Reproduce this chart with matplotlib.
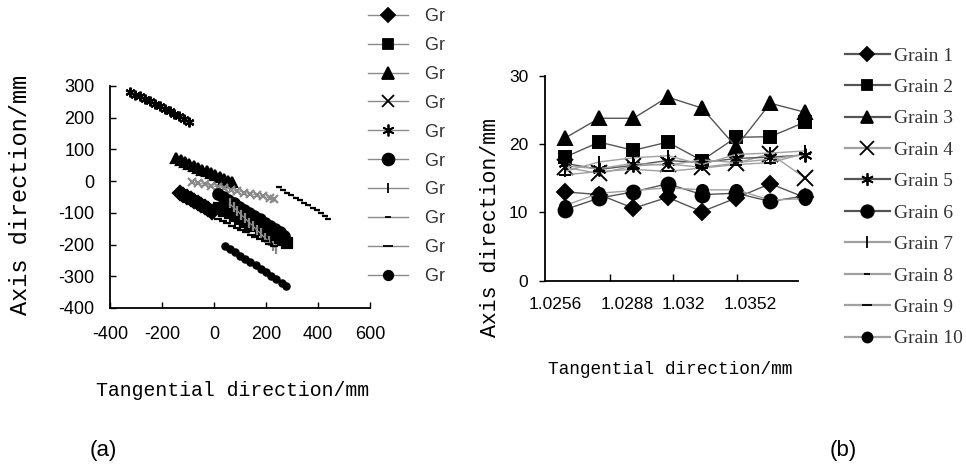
import matplotlib
matplotlib.use("Agg")
import matplotlib.pyplot as plt
from matplotlib.lines import Line2D
from matplotlib.transforms import Bbox, TransformedBbox

plt.rcParams["axes.unicode_minus"] = False

# ---- panel (a): grain traces, tangential vs axis direction (mm) ----
a_x1 = [-131, -118, -104, -90, -77, -63, -50, -36, -22, -8]
a_y1 = [-38, -44, -51, -56, -62, -69, -75, -80, -88, -96]
a_x2 = [20, 40, 60, 80, 100, 120, 140, 160, 180, 200, 220, 240, 260, 280]
a_y2 = [-85, -94, -101, -111, -118, -128, -137, -143, -153, -162, -169, -178, -187, -195]
a_x3 = [-145, -128, -112, -95, -78, -62, -45, -28, -12, 5, 22, 38, 55, 70]
a_y3 = [72, 67, 59, 55, 47, 43, 36, 31, 25, 19, 14, 7, 2, -4]
a_x4 = [-85, -60, -35, -10, 15, 40, 65, 90, 115, 140, 165, 190, 215, 230]
a_y4 = [-2, -7, -9, -14, -18, -21, -27, -30, -36, -39, -45, -48, -54, -57]
a_x5 = [-323, -304, -285, -266, -247, -228, -209, -190, -171, -152, -133, -114, -95]
a_y5 = [282, 273, 267, 258, 252, 243, 237, 228, 222, 212, 206, 197, 188]
a_x6 = [15, 35, 55, 75, 95, 115, 135, 155, 175, 195, 215, 235, 255, 270]
a_y6 = [-40, -51, -60, -70, -80, -90, -99, -111, -119, -131, -140, -151, -160, -172]
a_x7 = [60, 75, 90, 105, 120, 135, 150, 165, 180, 195, 210, 225, 240]
a_y7 = [-70, -83, -93, -107, -117, -131, -141, -155, -165, -179, -189, -203, -213]
a_x8 = [250, 265, 282, 298, 315, 330, 347, 363, 380, 396, 412, 428, 440]
a_y8 = [-20, -28, -37, -44, -53, -60, -69, -76, -86, -92, -102, -109, -120]
a_x9 = [15, 33, 51, 69, 87, 105, 123, 141, 159, 177, 195, 213, 231]
a_y9 = [-118, -127, -133, -141, -147, -155, -161, -169, -175, -183, -189, -197, -204]
a_x10 = [41, 60, 80, 100, 120, 140, 160, 180, 200, 220, 240, 260, 278]
a_y10 = [-203, -214, -223, -235, -244, -256, -265, -278, -286, -299, -308, -320, -330]

a_xticks = [-400, -200, 0, 200, 400, 600]
a_yticks = [300, 200, 100, 0, -100, -200, -300, -400]

# ---- panel (b): first eight sampling points ----
b_xlabels = ["1.0256", "1.0288", "1.032", "1.0352"]
b_g1 = [13.0, 12.6, 10.6, 12.2, 10.1, 12.1, 14.2, 12.2]
b_g2 = [18.1, 20.3, 19.1, 20.3, 17.6, 21.0, 21.1, 23.2]
b_g3 = [20.9, 23.8, 23.8, 26.9, 25.3, 19.6, 26.0, 24.7]
b_g4 = [16.6, 15.7, 16.8, 17.1, 16.6, 17.2, 18.6, 15.1]
b_g5 = [17.2, 16.3, 16.9, 17.6, 17.3, 17.9, 18.1, 18.4]
b_g6 = [10.4, 12.1, 13.0, 14.2, 12.6, 12.8, 11.6, 12.4]
b_g7 = [16.0, 17.4, 18.0, 18.3, 17.0, 18.5, 18.7, 19.0]
b_g8 = [16.8, 16.4, 17.2, 16.9, 17.7, 17.3, 17.8, 18.5]
b_g9 = [15.5, 16.0, 16.3, 16.0, 16.5, 17.0, 17.3, 18.6]
b_g10 = [11.0, 12.8, 13.2, 13.6, 13.3, 13.3, 11.8, 12.0]

names = ["Grain %d" % i for i in range(1, 11)]
# marker, size in panel b, line colour
styles = [
    ("D", 8, "#555555"),
    ("s", 8.5, "#555555"),
    ("^", 10, "#555555"),
    ("x", 11, "#a0a0a0"),
    ((6, 2, 0), 10, "#555555"),
    ("o", 10, "#555555"),
    ("|", 9, "#a0a0a0"),
    ("_", 5, "#a0a0a0"),
    ("_", 8, "#a0a0a0"),
    ("o", 8, "#a0a0a0"),
]

W, H = 966, 465
fig = plt.figure(figsize=(W / 100, H / 100), dpi=100)


def fx(px):
    return px / W


def fy(py):
    return 1 - py / H


mono = "Liberation Mono"
sans = "Liberation Sans"

# ---------------- panel (a) ----------------
ax_a = fig.add_axes([fx(110), fy(308), fx(370) - fx(110), fy(86) - fy(308)])
a_x = [a_x1, a_x2, a_x3, a_x4, a_x5, a_x6, a_x7, a_x8, a_x9, a_x10]
a_y = [a_y1, a_y2, a_y3, a_y4, a_y5, a_y6, a_y7, a_y8, a_y9, a_y10]
a_ms = [7, 6.5, 7, 6, 7, 7.5, 7, 5, 6, 4.5]
for i in range(10):
    mk, _, lc = styles[i]
    col = "#8a8a8a" if i in (3, 6) else "black"
    ax_a.plot(a_x[i], a_y[i], color=lc, lw=0.8, marker=mk, ms=a_ms[i],
              mfc=col, mec=col, mew=1.6, clip_on=False)
ax_a.set_xlim(-400, 600)
ax_a.set_ylim(-400, 300)
ax_a.set_xticks(a_xticks)
ax_a.set_yticks(a_yticks)
ax_a.tick_params(direction="in", length=4, width=1.0, labelsize=13)
ax_a.tick_params(axis="x", pad=13)
ax_a.tick_params(axis="y", pad=11)
for lab in ax_a.get_xticklabels() + ax_a.get_yticklabels():
    lab.set_fontfamily(sans)
for s in ("top", "right"):
    ax_a.spines[s].set_visible(False)
for s in ("left", "bottom"):
    ax_a.spines[s].set_linewidth(1.3)

handles_a = []
for i in range(10):
    mk, ms, lc = styles[i]
    handles_a.append(Line2D([], [], color="#8a8a8a", lw=1.0, marker=mk,
                            ms=ms * 0.85, mfc="black", mec="black", mew=1.3))
leg_a = ax_a.legend(handles_a, names, loc="upper left",
                    bbox_to_anchor=(fx(368), fy(8)), bbox_transform=fig.transFigure,
                    frameon=False, prop={"family": sans, "size": 13},
                    handlelength=2.2, handletextpad=0.95, labelspacing=0.66,
                    borderpad=0, borderaxespad=0, labelcolor="#333333")
# the legend labels of panel (a) are cut off in the original figure
cut = TransformedBbox(Bbox([[0, 0], [fx(445), 1]]), fig.transFigure)
for t in leg_a.get_texts():
    t.set_clip_box(cut)
    t.set_clip_on(True)

fig.text(fx(21), fy(195), "Axis direction/mm", rotation=90, ha="center",
         va="center", family=mono, size=17)
fig.text(fx(233), fy(390), "Tangential direction/mm", ha="center", va="center",
         family=mono, size=14.3)
fig.text(fx(103), fy(450), "(a)", ha="center", va="center", family=sans, size=16)

# ---------------- panel (b) ----------------
ax_b = fig.add_axes([fx(545), fy(280.5), fx(798) - fx(545), fy(76) - fy(280.5)])
b_vals = [b_g1, b_g2, b_g3, b_g4, b_g5, b_g6, b_g7, b_g8, b_g9, b_g10]
idx = list(range(len(b_g1)))
for i in range(10):
    mk, ms, lc = styles[i]
    ax_b.plot(idx, b_vals[i], color=lc, lw=1.0, marker=mk, ms=ms,
              mfc="black", mec="black", mew=1.4, clip_on=False)
ax_b.set_xlim(-0.585, 6.81)
ax_b.set_ylim(0, 30)
ax_b.set_yticks([0, 10, 20, 30])
ax_b.set_xticks([1.32, 3.16, 5.03])
ax_b.set_xticklabels([])
ax_b.set_xticks([-0.29, 1.81, 3.45, 5.41], labels=b_xlabels, minor=True)
ax_b.tick_params(axis="x", which="major", direction="in", length=5, width=1.0)
ax_b.tick_params(axis="x", which="minor", length=0, pad=12, labelsize=12.5)
ax_b.tick_params(axis="y", direction="out", length=4, width=1.0, pad=8,
                 labelsize=12.5)
for lab in ax_b.get_xticklabels(minor=True) + ax_b.get_yticklabels():
    lab.set_fontfamily(sans)
for s in ("top", "right"):
    ax_b.spines[s].set_visible(False)
for s in ("left", "bottom"):
    ax_b.spines[s].set_linewidth(1.3)

handles_b = []
for i in range(10):
    mk, ms, lc = styles[i]
    handles_b.append(Line2D([], [], color=lc, lw=1.6, marker=mk, ms=ms * 0.9,
                            mfc="black", mec="black", mew=1.3))
ax_b.legend(handles_b, names, loc="upper left",
            bbox_to_anchor=(fx(845), fy(47)), bbox_transform=fig.transFigure,
            frameon=False, prop={"family": "Liberation Serif", "size": 14},
            handlelength=2.3, handletextpad=0.2, labelspacing=0.71,
            borderpad=0, borderaxespad=0, labelcolor="#333333")

fig.text(fx(490), fy(228), "Axis direction/mm", rotation=90, ha="center",
         va="center", family=mono, size=15.5)
fig.text(fx(670), fy(370), "Tangential direction/mm", ha="center", va="center",
         family=mono, size=12.8)
fig.text(fx(843), fy(450), "(b)", ha="center", va="center", family=sans, size=16)

fig.savefig("out.png", dpi=100)
